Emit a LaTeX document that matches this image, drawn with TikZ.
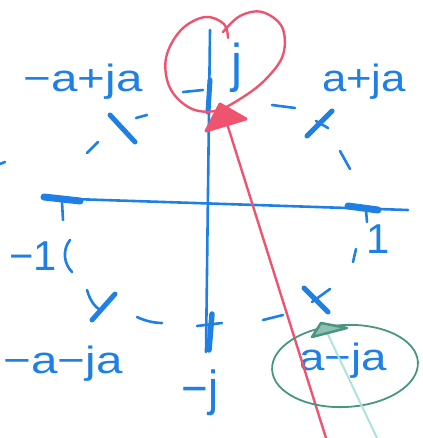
\documentclass[tikz,border=0pt]{standalone}
\usepackage{fontspec}
\usepackage{graphicx}
\setmainfont{Liberation Sans}
\definecolor{pen}{RGB}{30,128,228}
\definecolor{redpen}{RGB}{238,84,112}
\definecolor{tealpen}{RGB}{72,150,128}
\definecolor{lightteal}{RGB}{172,228,220}
\tikzset{
  penline/.style={pen, line width=2.6pt, line cap=round, line join=round},
  blob/.style={pen, line width=7pt, line cap=round},
  circdash/.style={pen, line width=2.6pt, line cap=round},
  lbl/.style={text=pen, inner sep=0pt, anchor=base, font=\fontsize{38}{38}\selectfont},
  redline/.style={redpen, line width=2.4pt, line cap=round},
}
\begin{document}
\begin{tikzpicture}[x=1pt,y=-1pt]
\useasboundingbox (0,0) rectangle (422,438);
% axes
\coordinate (xl) at (42,198);
\coordinate (xr) at (408,210);
\coordinate (yt) at (210,30);
\coordinate (yb) at (206,352);
\draw[penline] (xl) -- (xr);
\draw[penline] (yt) -- (yb);
% ticks on axes
\coordinate (m1a) at (44,197); \coordinate (m1b) at (80,201);
\draw[blob] (m1a) -- (m1b);
\coordinate (m1c) at (62,202); \coordinate (m1d) at (63,220);
\draw[penline] (m1c) -- (m1d);
\coordinate (p1a) at (348,206); \coordinate (p1b) at (378,210);
\draw[blob] (p1a) -- (p1b);
\coordinate (p1c) at (366,210); \coordinate (p1d) at (367,222);
\draw[penline] (p1c) -- (p1d);
\coordinate (jta) at (210,80); \coordinate (jtb) at (208,112);
\draw[blob, line width=5pt] (jta) -- (jtb);
\coordinate (jtc) at (183,92); \coordinate (jtd) at (203,90);
\draw[penline] (jtc) -- (jtd);
\coordinate (mja) at (212,314); \coordinate (mjb) at (209,350);
\draw[blob, line width=5.5pt] (mja) -- (mjb);
\coordinate (mjc) at (197,326); \coordinate (mjd) at (222,323);
\draw[penline] (mjc) -- (mjd);
% circle dashes
\coordinate (d1a) at (272,105); \coordinate (d1b) at (295,108);
\draw[circdash] (d1a) -- (d1b);
\coordinate (d2a) at (136,118); \coordinate (d2b) at (147,115);
\draw[circdash] (d2a) -- (d2b);
\coordinate (d3a) at (87,153); \coordinate (d3b) at (98,142);
\draw[circdash] (d3a) -- (d3b);
\coordinate (d4a) at (340,151); \coordinate (d4b) at (350,169);
\draw[circdash] (d4a) -- (d4b);
\coordinate (d5a) at (70,240); \coordinate (d5b) at (72,272);
\draw[circdash] (d5a) .. controls (62,250) and (64,264) .. (d5b);
\coordinate (d6a) at (356,249); \coordinate (d6b) at (353,262);
\draw[circdash] (d6a) -- (d6b);
\coordinate (d7a) at (137,317); \coordinate (d7b) at (162,323);
\draw[circdash] (d7a) .. controls (145,321) and (155,323) .. (d7b);
\coordinate (d8a) at (263,320); \coordinate (d8b) at (283,315);
\draw[circdash] (d8a) -- (d8b);
\coordinate (st1) at (0,164); \coordinate (st2) at (5,162);
\draw[circdash] (st1) -- (st2);
% crosses
\coordinate (c1a) at (110,115); \coordinate (c1b) at (135,142);
\draw[blob, line width=5pt] (c1a) -- (c1b);
\coordinate (c2a) at (307,136); \coordinate (c2b) at (332,111);
\draw[blob, line width=5pt] (c2a) -- (c2b);
\coordinate (c2c) at (316,121); \coordinate (c2d) at (328,128);
\draw[penline] (c2c) -- (c2d);
\coordinate (c3a) at (92,320); \coordinate (c3b) at (115,294);
\draw[blob, line width=5pt] (c3a) -- (c3b);
\coordinate (c3c) at (87,290); \coordinate (c3d) at (100,310);
\draw[penline] (c3c) .. controls (90,300) and (94,306) .. (c3d);
\coordinate (c4a) at (304,288); \coordinate (c4b) at (328,312);
\draw[blob, line width=5pt] (c4a) -- (c4b);
\coordinate (c4c) at (312,302); \coordinate (c4d) at (330,289);
\draw[penline] (c4c) -- (c4d);
% labels
\node[lbl] (lmapja) at (83,92) {\scalebox{1.25}[1]{−a+ja}};
\node[lbl] (lapja) at (364,92) {\scalebox{1.15}[1]{a+ja}};
\node[lbl] (lm1) at (33,270) {\scalebox{1.1}[1.1]{−1}};
\node[lbl] (lp1) at (378,253) {\scalebox{1.1}[1.1]{1}};
\node[lbl] (lmamja) at (63,373) {\scalebox{1.25}[1]{−a−ja}};
\node[lbl] (lmj) at (200,405) {\scalebox{1.2}[1.3]{−j}};
\node[lbl] (lj) at (237,82) {\scalebox{1.3}[1.4]{j}};
\node[lbl] (lamja) at (343,370) {\scalebox{1.2}[1]{a−ja}};
% red loop around j
\draw[redline] plot[smooth, tension=0.6] coordinates {(228,38) (224,24) (205,17) (181,30) (166,58) (170,88) (190,108) (215,111) (240,99) (265,80) (283,55) (282,27) (262,12) (240,16) (223,32)};
% red arrow
\coordinate (ra) at (326,438);
\coordinate (rb) at (224,114);
\draw[redline] (ra) -- (rb);
\coordinate (rt1) at (206,131); \coordinate (rt2) at (220,104); \coordinate (rt3) at (246,119);
\filldraw[redpen, line width=3pt, line join=round] (rt1) -- (rt2) -- (rt3) -- cycle;
% teal ellipse and arrow
\draw[tealpen, line width=1.8pt, rotate around={3:(345,366)}] (345,366) ellipse [x radius=73, y radius=41];
\coordinate (ta) at (377,438);
\coordinate (tb) at (322,322);
\draw[lightteal, line width=2pt] (ta) -- (tb);
\coordinate (tt1) at (312,337); \coordinate (tt2) at (321,323); \coordinate (tt3) at (347,328);
\draw[tealpen, line width=2.5pt, line join=round, fill=tealpen!60] (tt1) -- (tt2) -- (tt3) -- cycle;
\end{tikzpicture}
\end{document}
